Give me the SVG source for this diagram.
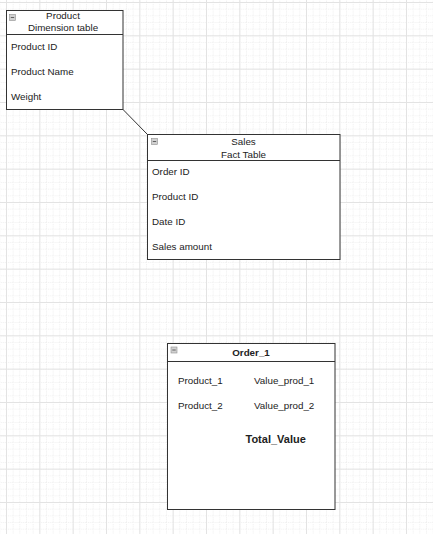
<svg xmlns="http://www.w3.org/2000/svg" width="433" height="534" viewBox="0 0 433 534">
<defs>
<pattern id="minor" x="6" y="2" width="6.667" height="6.667" patternUnits="userSpaceOnUse">
<path d="M0 0.5H6.667M0.5 0V6.667" fill="none" stroke="#f0f0f0" stroke-width="1" stroke-dasharray="1 1"/>
</pattern>
<pattern id="major" x="6" y="2" width="33.333" height="33.333" patternUnits="userSpaceOnUse">
<path d="M0 0.5H33.333M0.5 0V33.333" fill="none" stroke="#e3e3e3" stroke-width="1"/>
</pattern>
<g id="collapse">
<rect x="0" y="0" width="6" height="6" fill="#d0d0d0" stroke="#909090" stroke-width="0.6"/>
<path d="M1.3 3H4.7" stroke="#555" stroke-width="0.9"/>
</g>
</defs>
<style>
.box{fill:#fff;stroke:#333;stroke-width:1}
.sep{stroke:#333;stroke-width:1}
.t{font-family:"Liberation Sans",Arial,sans-serif;font-size:9.8px;fill:#222}
.c{text-anchor:middle}
.b{font-weight:bold}
.conn{fill:none;stroke:#333;stroke-width:1}
</style>
<rect width="433" height="534" fill="#fff"/>
<rect width="433" height="534" fill="url(#minor)"/>
<rect width="433" height="534" fill="url(#major)"/>

<g id="connectors">
<path class="conn" d="M123 109.5L147.5 134.5"/>
</g>

<g id="product">
<rect class="box" x="6.5" y="10.5" width="116.5" height="99"/>
<line class="sep" x1="6.5" y1="34.5" x2="123" y2="34.5"/>
<use href="#collapse" x="9.5" y="14.5"/>
<text class="t c" x="63" y="19">Product</text>
<text class="t c" x="63" y="31">Dimension table</text>
<text class="t" x="11" y="50">Product ID</text>
<text class="t" x="11" y="75">Product Name</text>
<text class="t" x="11" y="100">Weight</text>
</g>

<g id="sales">
<rect class="box" x="147.5" y="134.5" width="192.5" height="125"/>
<line class="sep" x1="147.5" y1="160.5" x2="340" y2="160.5"/>
<use href="#collapse" x="151.5" y="138.5"/>
<text class="t c" x="243.5" y="145">Sales</text>
<text class="t c" x="243.5" y="157.5">Fact Table</text>
<text class="t" x="152" y="175">Order ID</text>
<text class="t" x="152" y="200">Product ID</text>
<text class="t" x="152" y="225">Date ID</text>
<text class="t" x="152" y="250">Sales amount</text>
</g>

<g id="order1">
<rect class="box" x="167.5" y="343.5" width="167.5" height="166"/>
<line class="sep" x1="167.5" y1="361.5" x2="335" y2="361.5"/>
<use href="#collapse" x="171" y="347"/>
<text class="t c b" x="251" y="356">Order_1</text>
<text class="t" x="178" y="383.5">Product_1</text>
<text class="t" x="254" y="383.5">Value_prod_1</text>
<text class="t" x="178" y="408.5">Product_2</text>
<text class="t" x="254" y="408.5">Value_prod_2</text>
<text class="t b" x="245.5" y="443" style="font-size:11px">Total_Value</text>
</g>
</svg>
